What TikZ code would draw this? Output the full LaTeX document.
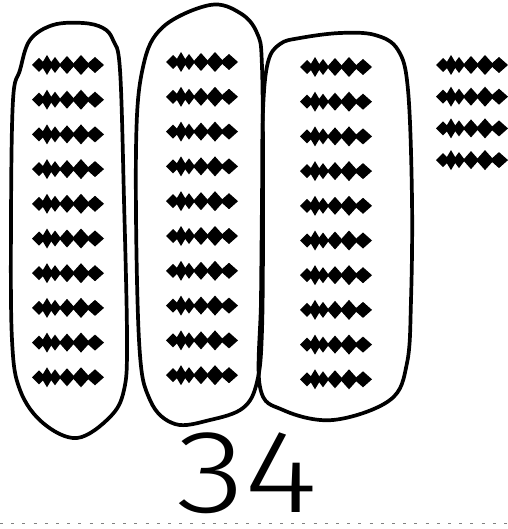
\documentclass[tikz,border=0pt]{standalone}
\usepackage{fontspec}
\usetikzlibrary{positioning,calc}
\newfontfamily\numfont{Fira Sans Light}

% one row of beads, #1 = left x, #2 = centre y
\newcommand{\beadrow}[2]{%
  \foreach \dx/\hw/\hh in {7/7/7,15/6/10,23/6/8,35/8/9,49/9/10,63/9/8} {
    \fill (#1+\dx-\hw,#2) -- (#1+\dx,#2-\hh) -- (#1+\dx+\hw,#2) -- (#1+\dx,#2+\hh) -- cycle;
  }%
}

\begin{document}
\begin{tikzpicture}[x=1pt,y=-1pt,
  loop/.style={line width=3.7pt,line join=round},
  baseline/.style={gray,line width=1pt,dash pattern=on 3pt off 8.2pt}]
\useasboundingbox (0,0) rectangle (507,529);

% Group 1
\foreach \i in {0,...,9} {
  \beadrow{32}{65+34.7*\i}
}
\draw[loop] plot[smooth cycle,tension=0.6] coordinates {(13,100) (20,70) (30,40) (53,25) (83,23) (103,28) (113,40)
  (120,70) (124,200) (127,340) (124,390) (110,417) (77,438) (43,423) (20,390) (12,340) (11,220)};

% Group 2
\foreach \i in {0,...,9} {
  \beadrow{166}{62+34.8*\i}
}
\draw[loop] plot[smooth cycle,tension=0.6] coordinates {(136,150) (143,67) (163,27) (210,5) (240,13) (257,33)
  (262,67) (263,200) (262,330) (257,382) (243,408) (210,420) (175,424) (150,400) (139,340)};

% Group 3
\foreach \i in {0,...,9} {
  \beadrow{300}{67+34.7*\i}
}
\draw[loop] plot[smooth cycle,tension=0.6] coordinates {(263,110) (268,62) (280,44) (300,38) (340,33) (375,35)
  (398,50) (408,90) (412,200) (411,300) (407,363) (390,400) (333,420) (283,410) (260,387) (261,300) (262,200)};

% Ones
\foreach \i in {0,...,3} {
  \beadrow{436}{65+31.7*\i}
}

% Number
\node[inner sep=0pt,font=\numfont\fontsize{118}{118}\selectfont] (num) at (247,473) {\scalebox{1.2}[1]{34}};

% Line
\draw[baseline] (0,523) -- (507,523);
\end{tikzpicture}
\end{document}
